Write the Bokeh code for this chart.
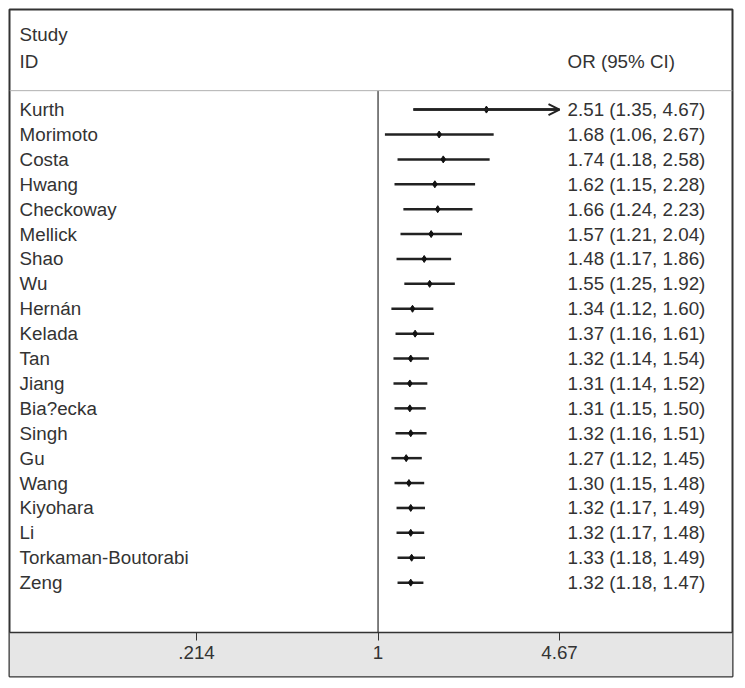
from bokeh.plotting import figure
from bokeh.models import (ColumnDataSource, FixedTicker, BoxAnnotation, Span,
                          Arrow, OpenHead, Range1d)
from bokeh.core.properties import value
from bokeh.embed import file_html
from bokeh.resources import INLINE

# ---- data ----
studies = ["Kurth", "Morimoto", "Costa", "Hwang", "Checkoway", "Mellick", "Shao", "Wu",
           "Hernán", "Kelada", "Tan", "Jiang", "Bia?ecka", "Singh", "Gu", "Wang",
           "Kiyohara", "Li", "Torkaman-Boutorabi", "Zeng"]
or_est = [2.51, 1.68, 1.74, 1.62, 1.66, 1.57, 1.48, 1.55, 1.34, 1.37, 1.32, 1.31,
          1.31, 1.32, 1.27, 1.30, 1.32, 1.32, 1.33, 1.32]
ci_low = [1.35, 1.06, 1.18, 1.15, 1.24, 1.21, 1.17, 1.25, 1.12, 1.16, 1.14, 1.14,
          1.15, 1.16, 1.12, 1.15, 1.17, 1.17, 1.18, 1.18]
ci_high = [4.67, 2.67, 2.58, 2.28, 2.23, 2.04, 1.86, 1.92, 1.60, 1.61, 1.54, 1.52,
           1.50, 1.51, 1.45, 1.48, 1.49, 1.48, 1.49, 1.47]
tick_values = [0.214, 1, 4.67]
tick_labels = [".214", "1", "4.67"]
header_left = ["Study", "ID"]
header_right = "OR (95% CI)"

rows = list(range(len(studies)))
ci_text = [f"{o:.2f} ({l:.2f}, {h:.2f})" for o, l, h in zip(or_est, ci_low, ci_high)]
src = ColumnDataSource(dict(study=studies, est=or_est, lo=ci_low, hi=ci_high,
                            row=rows, label=ci_text))

FONT = value("Liberation Sans")
TXT = "#333333"
FS = "18.8px"

# layout constants (data space)
X_MIN, X_MAX = 0.0437, 20.3
Y_BOTTOM, Y_TOP = 22.77, -4.02
HEADER_LINE = -0.76
AXIS_Y = 21.0
NAME_X = 0.0476
CI_X = 5.0

p = figure(width=734, height=678, x_axis_type="log",
           x_range=Range1d(X_MIN, X_MAX), y_range=Range1d(Y_BOTTOM, Y_TOP),
           output_backend="svg", toolbar_location=None,
           min_border_left=9, min_border_right=2, min_border_top=9, min_border_bottom=2,
           y_axis_location=None)
p.background_fill_color = "white"
p.border_fill_color = "white"
p.outline_line_color = "#333333"
p.outline_line_width = 2
p.grid.visible = False

# grey axis band
p.add_layout(BoxAnnotation(top=AXIS_Y, fill_color="#e6e6e6", fill_alpha=1,
                           line_color=None, level="underlay"))
# header separator
p.add_layout(Span(location=HEADER_LINE, dimension="width", line_color="#b0b0b0",
                  line_width=1))
# null line at OR = 1
p.segment(x0=[1], x1=[1], y0=[HEADER_LINE], y1=[AXIS_Y], line_color="#555555",
          line_width=1.5)

# confidence intervals and estimates
p.segment(x0="lo", x1="hi", y0="row", y1="row", source=src, line_color="#222222",
          line_width=2.5)
p.scatter(x="est", y="row", source=src, marker="diamond", size=7,
          fill_color="#111111", line_color="#111111")

# arrows for intervals reaching the edge tick
for i, h in enumerate(ci_high):
    if h >= max(tick_values):
        p.add_layout(Arrow(end=OpenHead(size=11, line_width=2, line_color="#222222"),
                           x_start=ci_low[i], x_end=h, y_start=rows[i], y_end=rows[i],
                           line_color="#222222", line_width=2.5))

# texts
p.text(x=NAME_X, y="row", text="study", source=src, text_font=FONT,
       text_font_size=FS, text_color=TXT, text_align="left", text_baseline="middle")
p.text(x=CI_X, y="row", text="label", source=src, text_font=FONT,
       text_font_size=FS, text_color=TXT, text_align="left", text_baseline="middle")
p.text(x=[NAME_X, NAME_X], y=[-3.0, -1.93], text=header_left, text_font=FONT,
       text_font_size=FS, text_color=TXT, text_align="left", text_baseline="middle")
p.text(x=[CI_X], y=[-1.93], text=[header_right], text_font=FONT,
       text_font_size=FS, text_color=TXT, text_align="left", text_baseline="middle")

# x axis drawn on top of the grey band
ax = p.xaxis[0]
ax.fixed_location = AXIS_Y
ax.ticker = FixedTicker(ticks=tick_values, minor_ticks=[])
ax.major_label_overrides = dict(zip(tick_values, tick_labels))
ax.axis_line_color = "#333333"
ax.axis_line_width = 1.5
ax.major_tick_in = 0
ax.major_tick_out = 8
ax.major_tick_line_color = "#333333"
ax.major_tick_line_width = 1
ax.minor_tick_line_color = None
ax.major_label_text_font = "Liberation Sans"
ax.major_label_text_font_size = FS
ax.major_label_text_color = TXT
ax.major_label_standoff = 6

open("out.html", "w").write(file_html(p, INLINE))
